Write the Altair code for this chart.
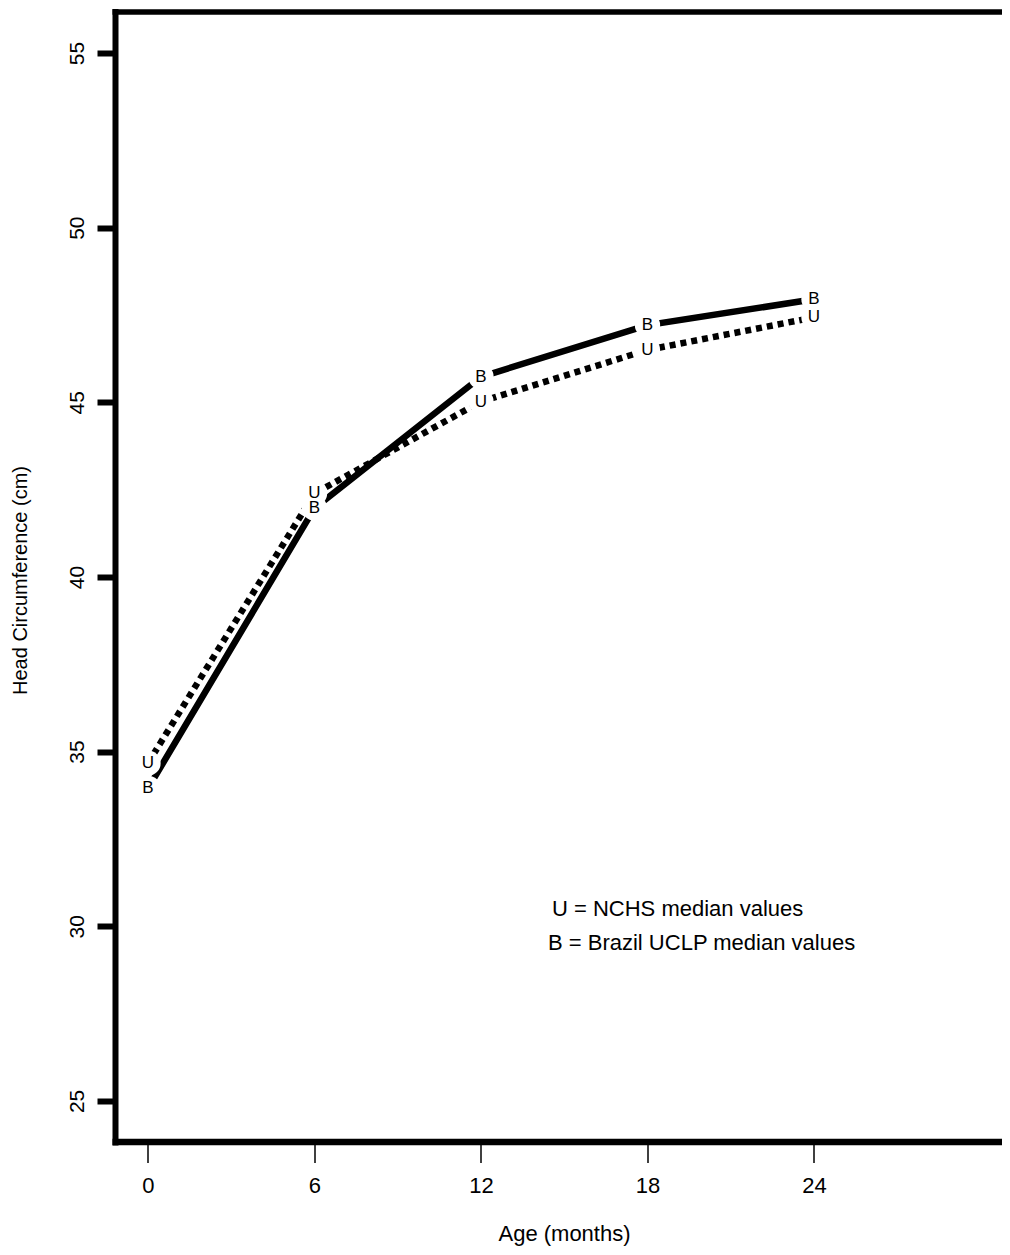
import altair as alt
import pandas as pd

# ---- data ----
ages = [0, 6, 12, 18, 24]
nchs_median = [34.67, 42.39, 45.02, 46.50, 47.43]      # "U" series (dotted)
brazil_median = [33.95, 41.97, 45.73, 47.21, 47.95]    # "B" series (solid)
x_ticks = [0, 6, 12, 18, 24]
y_ticks = [25, 30, 35, 40, 45, 50, 55]
legend_u = "U = NCHS median values"
legend_b = "B = Brazil UCLP median values"

rows = []
for a, v in zip(ages, nchs_median):
    rows.append({"age": a, "hc": v, "series": "U"})
for a, v in zip(ages, brazil_median):
    rows.append({"age": a, "hc": v, "series": "B"})
df = pd.DataFrame(rows)

W, H = 886.5, 1130
FONT = "Liberation Sans"

x_enc = alt.X(
    "age:Q",
    scale=alt.Scale(domain=[-1.171, 30.775], nice=False, zero=False),
    axis=alt.Axis(
        values=x_ticks, domain=False, grid=False,
        tickSize=20.5, tickWidth=1.5, tickColor="black",
        labelFontSize=22, labelFont=FONT, labelColor="black",
        labelPadding=13, labelBaseline="top", labelFlush=False, labelOverlap=False,
        title="Age (months)", titleFontSize=22, titleFont=FONT,
        titleFontWeight="normal", titleColor="black",
        titleX=448.5, titleY=98, titleBaseline="alphabetic", titleAlign="center",
    ),
)
y_enc = alt.Y(
    "hc:Q",
    scale=alt.Scale(domain=[23.824, 56.174], nice=False, zero=False),
    axis=alt.Axis(
        values=y_ticks, domain=False, grid=False,
        tickSize=18.5, tickWidth=6, tickColor="black",
        labelAngle=270, labelAlign="center", labelBaseline="alphabetic",
        labelPadding=14, labelFontSize=21, labelFont=FONT, labelColor="black",
        labelFlush=False, labelOverlap=False,
        title="Head Circumference (cm)", titleFontSize=20, titleFont=FONT,
        titleFontWeight="normal", titleColor="black", titleAngle=270,
        titleX=-95.5, titleY=568, titleBaseline="middle", titleAlign="center",
    ),
)

base = alt.Chart(df)

u_line = base.transform_filter(alt.datum.series == "U").mark_line(
    color="black", strokeWidth=6.5, strokeDash=[6, 5], strokeCap="butt"
).encode(x=x_enc, y=y_enc)

b_line = base.transform_filter(alt.datum.series == "B").mark_line(
    color="black", strokeWidth=6.5, strokeCap="butt"
).encode(x=x_enc, y=y_enc)

gaps = base.mark_circle(color="white", opacity=1, size=640).encode(x=x_enc, y=y_enc)

letters = base.mark_text(
    font=FONT, fontSize=17, color="black", align="center", baseline="middle"
).encode(x=x_enc, y=y_enc, text="series:N")

one = alt.Chart(pd.DataFrame({"k": [0]}))
frame_left = one.mark_rule(color="black", strokeWidth=6).encode(
    x=alt.value(0), y=alt.value(-3), y2=alt.value(H + 3.5))
frame_top = one.mark_rule(color="black", strokeWidth=5.5).encode(
    y=alt.value(0), x=alt.value(-3), x2=alt.value(W))
frame_bottom = one.mark_rule(color="black", strokeWidth=6.5).encode(
    y=alt.value(H), x=alt.value(-3), x2=alt.value(W))

leg_u = one.mark_text(
    font=FONT, fontSize=22, color="black", align="left", baseline="alphabetic", text=legend_u
).encode(x=alt.value(436.5), y=alt.value(904))
leg_b = one.mark_text(
    font=FONT, fontSize=22, color="black", align="left", baseline="alphabetic", text=legend_b
).encode(x=alt.value(432.5), y=alt.value(938))

chart = alt.layer(
    u_line, b_line, gaps, letters, frame_left, frame_top, frame_bottom, leg_u, leg_b
).properties(
    width=W, height=H,
    padding={"left": 107.5, "top": 4, "right": 0, "bottom": 104},
    autosize=alt.AutoSizeParams(type="none"),
    background="white",
).configure_view(stroke=None)

chart.save("out.html", embed_options={"renderer": "svg", "actions": False})
